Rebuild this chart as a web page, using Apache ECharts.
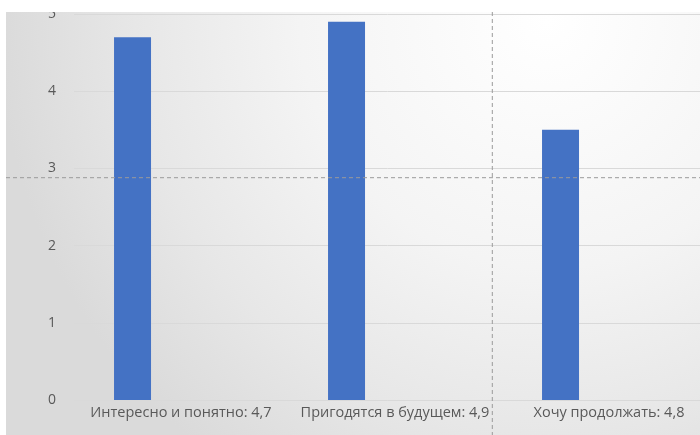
<!DOCTYPE html>
<html>
<head>
<meta charset="utf-8">
<script src="https://cdn.jsdelivr.net/npm/echarts@6/dist/echarts.min.js"></script>
<style>
html,body{margin:0;padding:0;background:#fff;}
#c{width:700px;height:435px;}
</style>
</head>
<body>
<div id="c"></div>
<script>
const categories = ['Интересно и понятно: 4,7', 'Пригодятся в будущем: 4,9', 'Хочу продолжать: 4,8'];
const values = [4.7, 4.9, 3.5];
const emptySeriesA = [null, null, null];
const emptySeriesB = [null, null, null];
const yTicks = [0, 1, 2, 3, 4, 5];

const chart = echarts.init(document.getElementById('c'), null, {renderer: 'canvas'});
const font = '"Open Sans", "Noto Sans", sans-serif';
chart.setOption({
  animation: false,
  backgroundColor: '#ffffff',
  graphic: [
    {type: 'rect', z: -10, silent: true, shape: {x: 6, y: 12, width: 694, height: 423},
     style: {fill: new echarts.graphic.RadialGradient(0.78, 0.02, 1.3, [
       {offset: 0, color: '#ffffff'}, {offset: 0.45, color: '#f4f4f4'}, {offset: 0.75, color: '#e7e7e7'}, {offset: 1, color: '#dadada'}])}},
    {type: 'rect', z: 100, silent: true, shape: {x: 0, y: 0, width: 700, height: 12}, style: {fill: '#ffffff'}},
    {type: 'line', z: 100, silent: true, shape: {x1: 6, y1: 177.7, x2: 700, y2: 177.7},
     style: {stroke: '#9a9a9a', lineWidth: 1, lineDash: [4, 3]}},
    {type: 'line', z: 100, silent: true, shape: {x1: 492.3, y1: 12, x2: 492.3, y2: 435},
     style: {stroke: '#9a9a9a', lineWidth: 1, lineDash: [4, 3]}}
  ],
  grid: {left: 74, top: 14, width: 642, height: 386, containLabel: false, outerBoundsMode: 'none'},
  xAxis: {
    type: 'category',
    data: categories,
    axisLine: {show: false},
    axisTick: {show: false},
    axisLabel: {color: '#595959', fontSize: 14.5, fontFamily: font, margin: 5, interval: 0}
  },
  yAxis: {
    type: 'value',
    min: yTicks[0],
    max: yTicks[yTicks.length - 1],
    interval: 1,
    axisLine: {show: false},
    axisTick: {show: false},
    axisLabel: {color: '#595959', fontSize: 14, fontFamily: font, margin: 18},
    splitLine: {lineStyle: {color: '#d9d9d9', width: 1}}
  },
  series: [
    {type: 'bar', data: values, barWidth: 37, barGap: '31%', itemStyle: {color: '#4472c4'}},
    {type: 'bar', data: emptySeriesA, barWidth: 37, barGap: '31%'},
    {type: 'bar', data: emptySeriesB, barWidth: 37, barGap: '31%'}
  ]
});
</script>
</body>
</html>
